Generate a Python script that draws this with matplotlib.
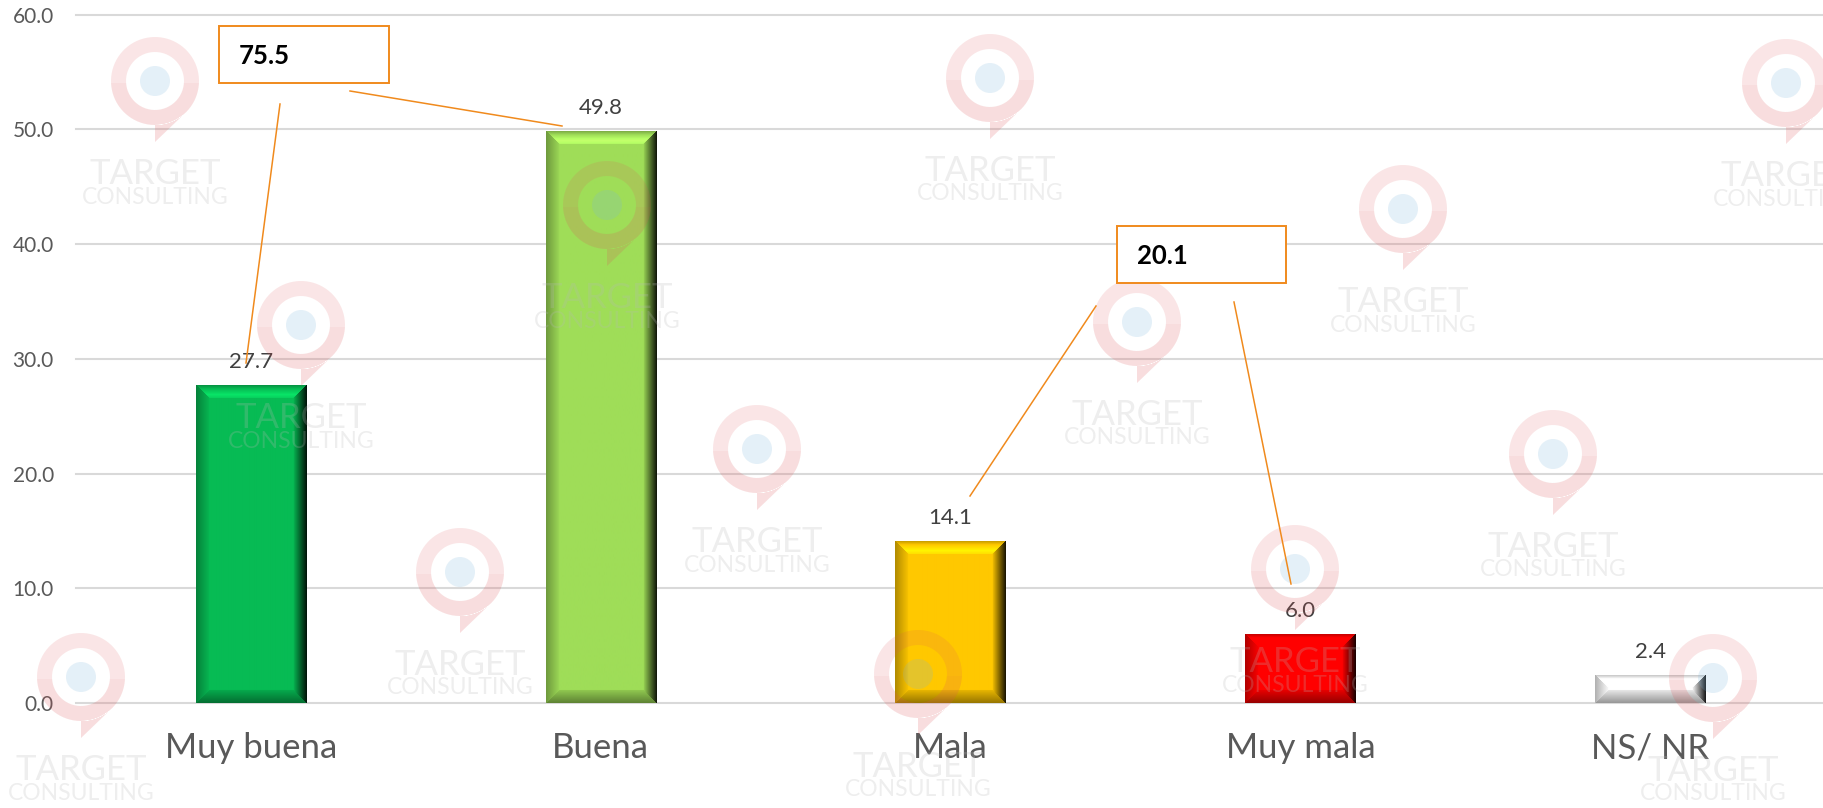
import numpy as np
import matplotlib
matplotlib.use("Agg")
import matplotlib.pyplot as plt
from matplotlib.path import Path
from matplotlib.patches import PathPatch, Rectangle, Circle

plt.rcParams['font.family'] = ['Lato', 'DejaVu Sans']

categories = ['Muy buena', 'Buena', 'Mala', 'Muy mala', 'NS/ NR']
values = [27.7, 49.8, 14.1, 6.0, 2.4]
value_labels = ['27.7', '49.8', '14.1', '6.0', '2.4']
bar_colors = ['#07bb54', '#9fdd58', '#ffc800', '#ff0000', '#ffffff']
y_ticks = [0, 10, 20, 30, 40, 50, 60]

# summary boxes: text, box (left, top, right, bottom) in pixels
box_texts = ['75.5', '20.1']
boxes = [(219, 26, 389, 83), (1117, 226, 1286, 283)]
leader_lines = [((280, 104), (246, 363)), ((350, 91), (562, 126)),
                ((1096, 306), (970, 496)), ((1234, 302), (1291, 584))]

# watermark pin centres in pixels
pins = [(155, 81), (301, 325), (607, 205), (460, 572), (757, 449), (81, 677),
        (918, 674), (990, 78), (1137, 322), (1295, 569), (1403, 209),
        (1553, 454), (1713, 678), (1786, 83)]

W, H = 1824, 808
fig = plt.figure(figsize=(W / 100, H / 100), dpi=100, facecolor='white')

# main axes, placed so that 0 and 60 land on the gridlines of the reference
ax_left, ax_right, ax_top, ax_bottom = 76, 1824, 14.7, 703
ax = fig.add_axes([ax_left / W, 1 - ax_bottom / H, (ax_right - ax_left) / W, (ax_bottom - ax_top) / H])


def bevel_image(base, w, h, b=13):
    base = np.array(matplotlib.colors.to_rgb(base))
    yy, xx = np.mgrid[0:h, 0:w]
    dist = np.stack([xx, w - 1 - xx, yy, h - 1 - yy])
    side = dist.argmin(axis=0)
    t = np.clip(dist.min(axis=0) / b, 0, 1)
    # brightness of each side, as a factor on the base colour
    left = 0.7 + 0.28 * t
    right = 0.12 + 0.85 * t
    bottom = 0.6 + 0.32 * t
    top = np.interp(t, [0, 0.25, 0.7, 0.99, 1], [0.8, 1.0, 1.22, 1.1, 1.0])
    factor = np.ones((h, w))
    factor[side == 0] = left[side == 0]
    factor[side == 1] = right[side == 1]
    factor[side == 2] = top[side == 2]
    factor[side == 3] = bottom[side == 3]
    factor[t >= 1] = 1
    return np.clip(base[None, None, :] * factor[:, :, None], 0, 1)


bars = ax.bar(range(len(values)), values, width=0.315, color=bar_colors, zorder=2)
ax.set_xlim(-0.5, 4.497)
ax.set_ylim(0, 60)
fig.canvas.draw()
for bar, color in zip(bars, bar_colors):
    ext = bar.get_window_extent()
    img = bevel_image(color, int(round(ext.width)), int(round(ext.height)))
    ax.imshow(img, extent=[bar.get_x(), bar.get_x() + bar.get_width(), 0, bar.get_height()],
              aspect='auto', zorder=3, interpolation='bilinear')
ax.set_xlim(-0.5, 4.497)
ax.set_ylim(0, 60)

for i, v in enumerate(values):
    ax.annotate(value_labels[i], (i, v), xytext=(0, 17), textcoords='offset points',
                ha='center', va='center', fontsize=16, color='#404040', zorder=5)

ax.set_xticks(range(len(categories)))
ax.set_xticklabels(categories, fontsize=25, color='#595959')
ax.set_yticks(y_ticks)
ax.set_yticklabels(['%.1f' % t for t in y_ticks], fontsize=15, color='#595959')
ax.tick_params(axis='both', length=0)
ax.tick_params(axis='x', pad=21)
ax.tick_params(axis='y', pad=16)
ax.grid(axis='y', color='#d9d9d9', lw=1.5, zorder=0)
ax.set_axisbelow(True)
for s in ax.spines.values():
    s.set_visible(False)
for gl in ax.get_ygridlines():
    gl.set_clip_on(False)

# overlay in pixel coordinates for watermarks and the summary boxes
ov = fig.add_axes([0, 0, 1, 1], facecolor='none')
ov.set_xlim(0, W)
ov.set_ylim(H, 0)
ov.axis('off')


def pin_path(cx, cy, r=44, r_in=29, tail=61):
    a = np.linspace(np.radians(45), np.radians(450), 90)
    # y axis points down, so angle 90 is the bottom of the pin
    outer = np.column_stack([cx + r * np.cos(a), cy + r * np.sin(a)])
    verts = np.vstack([outer, [[cx, cy + tail]], outer[:1]])
    codes = [Path.MOVETO] + [Path.LINETO] * (len(verts) - 2) + [Path.CLOSEPOLY]
    b = np.linspace(2 * np.pi, 0, 60)
    inner = np.column_stack([cx + r_in * np.cos(b), cy + r_in * np.sin(b)])
    inner = np.vstack([inner, inner[:1]])
    codes2 = [Path.MOVETO] + [Path.LINETO] * (len(inner) - 2) + [Path.CLOSEPOLY]
    return Path(np.vstack([verts, inner]), codes + codes2)


for cx, cy in pins:
    ring = PathPatch(pin_path(cx, cy), facecolor='#e0565a', edgecolor='none', alpha=0.15, zorder=6)
    ov.add_patch(ring)
    shade = PathPatch(pin_path(cx, cy), facecolor='#e0565a', edgecolor='none', alpha=0.05, zorder=6)
    ov.add_patch(shade)
    shade.set_clip_path(Rectangle((cx - 60, cy + 2), 120, 80, transform=ov.transData))
    ov.add_patch(Circle((cx, cy), 15, facecolor='#7ab5dc', edgecolor='none', alpha=0.2, zorder=6))
    ov.text(cx, cy + 93, 'TARGET', ha='center', va='center', fontsize=25, color='#b8b8b8', alpha=0.24, zorder=6)
    ov.text(cx, cy + 116, 'CONSULTING', ha='center', va='center', fontsize=16.5, color='#b8b8b8', alpha=0.24, zorder=6)

for (p0, p1) in leader_lines:
    ov.plot([p0[0], p1[0]], [p0[1], p1[1]], color='#f08a1d', lw=1.1, zorder=7)
for (l, t, r, b), txt in zip(boxes, box_texts):
    ov.add_patch(Rectangle((l, t), r - l, b - t, facecolor='white', edgecolor='#f08a1d', lw=1.4, zorder=8))
    ov.text(l + 20, (t + b) / 2 + 1, txt, ha='left', va='center', fontsize=18.5, fontweight='bold', color='black', zorder=9)

fig.savefig('out.png', dpi=100)
